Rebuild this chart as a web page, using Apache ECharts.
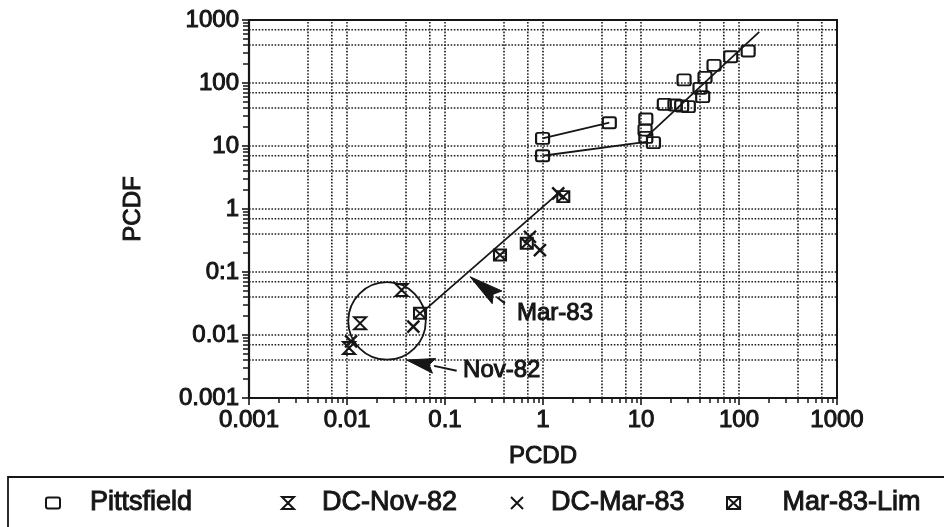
<!DOCTYPE html>
<html>
<head>
<meta charset="utf-8">
<script src="https://cdn.jsdelivr.net/npm/echarts@6/dist/echarts.min.js"></script>
<style>
html,body{margin:0;padding:0;background:#fff;}
#c{width:944px;height:527px;}
</style>
</head>
<body>
<div id="c"></div>
<script>
// ---- data ----
const xTickLabels = ['0.001', '0.01', '0.1', '1', '10', '100', '1000'];
const yTickLabels = ['0.001', '0.01', '0:1', '1', '10', '100', '1000'];
const xMin = 0.001, xMax = 1000, yMin = 0.001, yMax = 1000;
const xGridValues = [0.004, 0.007, 0.01, 0.04, 0.07, 0.1, 0.4, 0.7, 1, 4, 7, 10, 40, 70, 100, 400, 700];
const yGridValues = [0.004, 0.007, 0.01, 0.04, 0.07, 0.1, 0.4, 0.7, 1, 4, 7, 10, 40, 70, 100, 400, 700];

const pittsfield = [
  [0.99, 13.2], [0.99, 7.0], [4.75, 23.4], [11.2, 26.8], [11.0, 17.9], [11.2, 13.7],
  [13.4, 11.3], [17.3, 45.9], [22.2, 44.8], [26.0, 43.2], [30.4, 42.1], [27.5, 112],
  [40.0, 82.4], [42.6, 60.7], [45.0, 123], [55.6, 191], [82.3, 261], [124, 322]
];
const dcNov82 = [[0.0105, 0.0062], [0.0136, 0.0153], [0.0361, 0.0518]];
const dcMar83 = [[0.0110, 0.0079], [0.0475, 0.0136], [0.736, 0.363], [0.93, 0.223], [1.43, 1.77]];
const mar83Lim = [[0.0556, 0.0221], [0.364, 0.186], [0.683, 0.286], [1.61, 1.57]];

const pittsLineA = [[0.99, 13.2], [4.75, 23.4]];
const pittsLineB = [[0.99, 7.0], [11.8, 11.7]];
const pittsTrend = [[11.2, 13.7], [161, 650]];
const mar83Trend = [[0.065, 0.0265], [1.43, 1.77]];

const circleCenter = [0.0256, 0.0167];
const circleEdgeX = 0.0103;

const annotations = [
  { text: 'Mar-83', tip: [0.18, 0.0842], tail: [0.409, 0.0318], at: [0.543, 0.0223], head: 34, half: 8 },
  { text: 'Nov-82', tip: [0.0406, 0.00401], tail: [0.1315, 0.00271], at: [0.153, 0.00278], head: 28, half: 7.5 }
];

// ---- chart ----
const INK = '#161616';
const FONT = '"Liberation Sans", Arial, Helvetica, sans-serif';
const TB = 1.0;
const chart = echarts.init(document.getElementById('c'), null, { renderer: 'canvas' });

function decadeLabel(arr) {
  return function (v) {
    const i = Math.round(Math.log10(v)) + 3;
    return arr[i] !== undefined ? arr[i] : '';
  };
}

const symSquare = 'path://M2,0H12A2,2 0 0 1 14,2V9A2,2 0 0 1 12,11H2A2,2 0 0 1 0,9V2A2,2 0 0 1 2,0Z';
const symHour = 'path://M0,0H12L6,6L12,12H0L6,6ZM0,0H12M0,12H12';
const symCross = 'path://M0,0L10,10M10,0L0,10';
const symLim = 'path://M0,0H12V11H0ZM0,0L12,11M12,0L0,11';

function scatter(name, data, symbol, size, bw) {
  return {
    name, type: 'scatter', data, symbol, symbolSize: size, z: 5,
    itemStyle: { color: 'rgba(0,0,0,0)', borderColor: INK, borderWidth: bw, opacity: 1 },
    emphasis: { disabled: true }, silent: true
  };
}
function seg(data) {
  return {
    type: 'line', data, symbol: 'none', z: 4, silent: true,
    lineStyle: { color: INK, width: 1.8 }, emphasis: { disabled: true }
  };
}
function gridLines(values, vertical) {
  return {
    type: 'custom', z: 1, silent: true,
    data: values.map(v => vertical ? [v, yMin] : [xMin, v]),
    renderItem: function (params, api) {
      let p1, p2;
      if (vertical) {
        const v = api.value(0);
        p1 = api.coord([v, yMin]); p2 = api.coord([v, yMax]);
      } else {
        const v = api.value(1);
        p1 = api.coord([xMin, v]); p2 = api.coord([xMax, v]);
      }
      return {
        type: 'line',
        shape: { x1: p1[0], y1: p1[1], x2: p2[0], y2: p2[1] },
        style: { stroke: '#1e1e1e', lineWidth: 1.6, lineDash: [1.6, 1.6] }
      };
    }
  };
}

const legendTextBase = { fontSize: 27, fontFamily: FONT, color: INK, textBorderColor: INK, textBorderWidth: TB };
function legend(name, left, padLeft) {
  return {
    data: [name], left: left, top: 484, itemWidth: 14, itemHeight: 12,
    selectedMode: false, orient: 'horizontal',
    textStyle: Object.assign({}, legendTextBase, { padding: [0, 0, 0, padLeft] })
  };
}

const nameStyle = { fontSize: 24, fontFamily: FONT, color: INK, textBorderColor: INK, textBorderWidth: TB };
const labelStyle = { fontSize: 24, fontFamily: FONT, color: INK, margin: 10, textBorderColor: INK, textBorderWidth: TB,
  showMinLabel: true, showMaxLabel: true };

const option = {
  animation: false,
  backgroundColor: '#ffffff',
  grid: { left: 249, right: 107, top: 20, bottom: 129, show: true, borderColor: INK, borderWidth: 2, containLabel: false },
  xAxis: {
    type: 'log', logBase: 10, min: xMin, max: xMax, interval: 1,
    name: 'PCDD', nameLocation: 'middle', nameGap: 46, nameTextStyle: nameStyle,
    axisLine: { show: true, lineStyle: { color: INK, width: 2.2 } },
    axisTick: { show: true, inside: false, length: 7, lineStyle: { color: INK, width: 1.6 } },
    minorTick: { show: true, splitNumber: 9, length: 5, lineStyle: { color: INK, width: 1.5 } },
    splitLine: { show: false }, minorSplitLine: { show: false },
    axisLabel: Object.assign({ formatter: decadeLabel(xTickLabels) }, labelStyle)
  },
  yAxis: {
    type: 'log', logBase: 10, min: yMin, max: yMax, interval: 1,
    name: 'PCDF', nameLocation: 'middle', nameGap: 104, nameTextStyle: nameStyle,
    axisLine: { show: true, lineStyle: { color: INK, width: 2.2 } },
    axisTick: { show: true, inside: false, length: 7, lineStyle: { color: INK, width: 1.6 } },
    minorTick: { show: true, splitNumber: 9, length: 6, lineStyle: { color: INK, width: 1.5 } },
    splitLine: { show: false }, minorSplitLine: { show: false },
    axisLabel: Object.assign({ formatter: decadeLabel(yTickLabels) }, labelStyle)
  },
  legend: [
    legend('Pittsfield', 40, 25),
    legend('DC-Nov-82', 276, 22),
    legend('DC-Mar-83', 505, 22),
    legend('Mar-83-Lim', 721, 37)
  ],
  graphic: [
    { type: 'rect', shape: { x: 8, y: 477, width: 1000, height: 100 }, style: { fill: 'none', stroke: INK, lineWidth: 1.8 }, silent: true }
  ],
  series: [
    gridLines(xGridValues, true),
    gridLines(yGridValues, false),
    seg(pittsLineA), seg(pittsLineB), seg(pittsTrend), seg(mar83Trend),
    scatter('Pittsfield', pittsfield, symSquare, [13, 11], 2),
    scatter('DC-Nov-82', dcNov82, symHour, [12, 12], 2),
    scatter('DC-Mar-83', dcMar83, symCross, [12, 12], 2.4),
    scatter('Mar-83-Lim', mar83Lim, symLim, [12, 11], 2),
    {
      type: 'custom', z: 6, silent: true,
      data: [[circleCenter[0], circleCenter[1]]],
      renderItem: function (params, api) {
        const c = api.coord([api.value(0), api.value(1)]);
        const e = api.coord([circleEdgeX, api.value(1)]);
        const r = Math.abs(c[0] - e[0]);
        return { type: 'circle', shape: { cx: c[0], cy: c[1], r: r }, style: { fill: 'none', stroke: INK, lineWidth: 1.8 } };
      }
    },
    {
      type: 'custom', z: 7, silent: true,
      data: annotations.map((a, i) => [a.tip[0], a.tip[1], i]),
      renderItem: function (params, api) {
        const a = annotations[api.value(2)];
        const tip = api.coord(a.tip), tail = api.coord(a.tail), at = api.coord(a.at);
        const dx = tail[0] - tip[0], dy = tail[1] - tip[1];
        const L = Math.sqrt(dx * dx + dy * dy);
        const ux = dx / L, uy = dy / L, nx = -uy, ny = ux;
        const bx = tip[0] + ux * a.head, by = tip[1] + uy * a.head;
        return {
          type: 'group',
          children: [
            { type: 'line', shape: { x1: bx, y1: by, x2: tail[0], y2: tail[1] }, style: { stroke: INK, lineWidth: 2 } },
            { type: 'polygon', shape: { points: [tip, [bx + nx * a.half, by + ny * a.half], [bx - ux * 5, by - uy * 5], [bx - nx * a.half, by - ny * a.half]] },
              style: { fill: INK, stroke: INK, lineWidth: 1 } },
            { type: 'text', x: at[0], y: at[1],
              style: { text: a.text, fill: INK, fontSize: 24, fontFamily: FONT, align: 'left', verticalAlign: 'middle',
                stroke: INK, lineWidth: TB } }
          ]
        };
      }
    }
  ]
};
chart.setOption(option);
</script>
</body>
</html>
